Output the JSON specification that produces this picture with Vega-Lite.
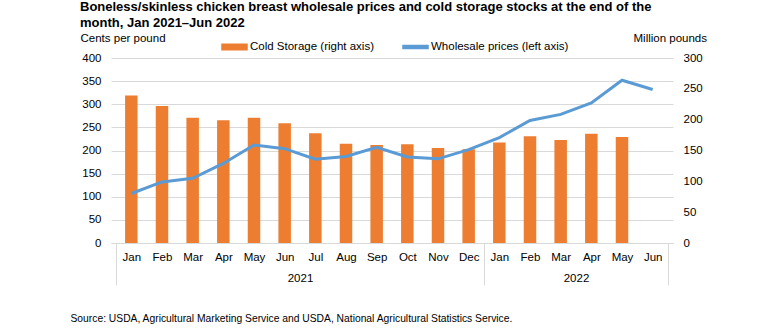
{
  "$schema": "https://vega.github.io/schema/vega-lite/v6.json",
  "width": 562,
  "height": 185,
  "autosize": {"type": "none"},
  "padding": {"left": 111, "top": 58, "right": 85, "bottom": 91},
  "background": "white",
  "config": {"font": "Liberation Sans", "view": {"stroke": null}},
  "title": {
    "text": ["Boneless/skinless chicken breast wholesale prices and cold storage stocks at the end of the", "month, Jan 2021\u2013Jun 2022"],
    "anchor": "start",
    "frame": "group",
    "fontSize": 13,
    "fontWeight": "bold",
    "color": "#000000",
    "lineHeight": 16,
    "dx": -31,
    "dy": 2,
    "offset": 4
  },
  "data": {
    "values": [
      {"idx": 0, "month": "Jan", "year": 2021, "storage": 239, "price": 107},
      {"idx": 1, "month": "Feb", "year": 2021, "storage": 222, "price": 132},
      {"idx": 2, "month": "Mar", "year": 2021, "storage": 203, "price": 140},
      {"idx": 3, "month": "Apr", "year": 2021, "storage": 199, "price": 172},
      {"idx": 4, "month": "May", "year": 2021, "storage": 203, "price": 212},
      {"idx": 5, "month": "Jun", "year": 2021, "storage": 194, "price": 204},
      {"idx": 6, "month": "Jul", "year": 2021, "storage": 178, "price": 181},
      {"idx": 7, "month": "Aug", "year": 2021, "storage": 161, "price": 187},
      {"idx": 8, "month": "Sep", "year": 2021, "storage": 159, "price": 207},
      {"idx": 9, "month": "Oct", "year": 2021, "storage": 160, "price": 186},
      {"idx": 10, "month": "Nov", "year": 2021, "storage": 154, "price": 182},
      {"idx": 11, "month": "Dec", "year": 2021, "storage": 152, "price": 202},
      {"idx": 12, "month": "Jan", "year": 2022, "storage": 163, "price": 228},
      {"idx": 13, "month": "Feb", "year": 2022, "storage": 173, "price": 265},
      {"idx": 14, "month": "Mar", "year": 2022, "storage": 167, "price": 278},
      {"idx": 15, "month": "Apr", "year": 2022, "storage": 177, "price": 303},
      {"idx": 16, "month": "May", "year": 2022, "storage": 172, "price": 352},
      {"idx": 17, "month": "Jun", "year": 2022, "storage": null, "price": 332}
    ]
  },
  "layer": [
    {
      "mark": {"type": "bar", "size": 12.5, "color": "#ED7D31"},
      "encoding": {
        "x": {
          "field": "idx",
          "type": "quantitative",
          "scale": {"domain": [-0.5, 17.5], "nice": false, "zero": false},
          "axis": {
            "orient": "bottom",
            "values": [0, 1, 2, 3, 4, 5, 6, 7, 8, 9, 10, 11, 12, 13, 14, 15, 16, 17],
            "labelExpr": "['Jan','Feb','Mar','Apr','May','Jun','Jul','Aug','Sep','Oct','Nov','Dec'][datum.value % 12]",
            "ticks": false,
            "grid": false,
            "domain": true,
            "domainColor": "#d9d9d9",
            "labelPadding": 8,
            "labelFontSize": 11.5,
            "labelColor": "#000000",
            "labelFlush": false,
            "labelOverlap": false,
            "labelBound": false,
            "title": "Source: USDA, Agricultural Marketing Service and USDA, National Agricultural Statistics Service.",
            "titleX": -41,
            "titleY": 75,
            "titleAlign": "left",
            "titleAnchor": "start",
            "titleBaseline": "middle",
            "titleFontWeight": "normal",
            "titleFontSize": 10.3,
            "titleColor": "#000000"
          }
        },
        "y": {
          "field": "storage",
          "type": "quantitative",
          "scale": {"domain": [0, 300], "nice": false},
          "axis": {
            "orient": "right",
            "values": [0, 50, 100, 150, 200, 250, 300],
            "grid": false,
            "ticks": false,
            "domain": false,
            "labelPadding": 10,
            "labelFontSize": 11.5,
            "labelColor": "#000000",
            "labelFlush": false,
            "title": "Million pounds",
            "titleAngle": 0,
            "titleX": -40,
            "titleY": -20,
            "titleAlign": "left",
            "titleBaseline": "middle",
            "titleFontWeight": "normal",
            "titleFontSize": 11.5,
            "titleColor": "#000000"
          }
        },
        "color": {
          "datum": "Cold Storage (right axis)",
          "scale": {"domain": ["Cold Storage (right axis)", "Wholesale prices (left axis)"], "range": ["#ED7D31", "#5B9BD5"]},
          "legend": {
            "orient": "none",
            "legendX": 110,
            "legendY": -25,
            "direction": "horizontal",
            "title": null,
            "symbolType": "M-1,-0.22H1V0.22H-1Z",
            "symbolSize": 625,
            "labelFontSize": 11.5,
            "labelColor": "#000000",
            "labelOffset": 2,
            "columnPadding": 26,
            "encode": {
              "symbols": {
                "update": {
                  "fill": {"scale": "color", "field": "value"},
                  "stroke": {"value": "transparent"},
                  "opacity": {"value": 1},
                  "shape": {"signal": "datum.value === 'Wholesale prices (left axis)' ? 'M-1,-0.12H1V0.12H-1Z' : 'M-1,-0.22H1V0.22H-1Z'"}
                }
              }
            }
          }
        }
      }
    },
    {
      "mark": {"type": "line", "strokeWidth": 3, "color": "#5B9BD5"},
      "encoding": {
        "x": {
          "field": "idx",
          "type": "quantitative",
          "axis": {
            "orient": "bottom",
            "values": [-0.5, 5.5, 11.5, 14.5, 17.5],
            "labelExpr": "datum.value == 5.5 ? '2021' : datum.value == 14.5 ? '2022' : ''",
            "tickSize": 42,
            "tickColor": "#d9d9d9",
            "tickOpacity": {"condition": {"test": "datum.value == 5.5 || datum.value == 14.5", "value": 0}, "value": 1},
            "domain": false,
            "grid": false,
            "labelPadding": -13,
            "labelFontSize": 11.5,
            "labelColor": "#000000",
            "labelFlush": false,
            "labelOverlap": false,
            "labelBound": false,
            "title": null
          }
        },
        "y": {
          "field": "price",
          "type": "quantitative",
          "scale": {"domain": [0, 400], "nice": false},
          "axis": {
            "orient": "left",
            "values": [0, 50, 100, 150, 200, 250, 300, 350, 400],
            "grid": true,
            "gridColor": "#d9d9d9",
            "ticks": false,
            "domain": false,
            "labelPadding": 10,
            "labelFontSize": 11.5,
            "labelColor": "#000000",
            "labelFlush": false,
            "title": "Cents per pound",
            "titleAngle": 0,
            "titleX": -31,
            "titleY": -20,
            "titleAlign": "left",
            "titleBaseline": "middle",
            "titleFontWeight": "normal",
            "titleFontSize": 11.5,
            "titleColor": "#000000"
          }
        },
        "color": {"datum": "Wholesale prices (left axis)"}
      }
    }
  ],
  "resolve": {"scale": {"y": "independent"}, "axis": {"x": "independent", "y": "independent"}}
}
